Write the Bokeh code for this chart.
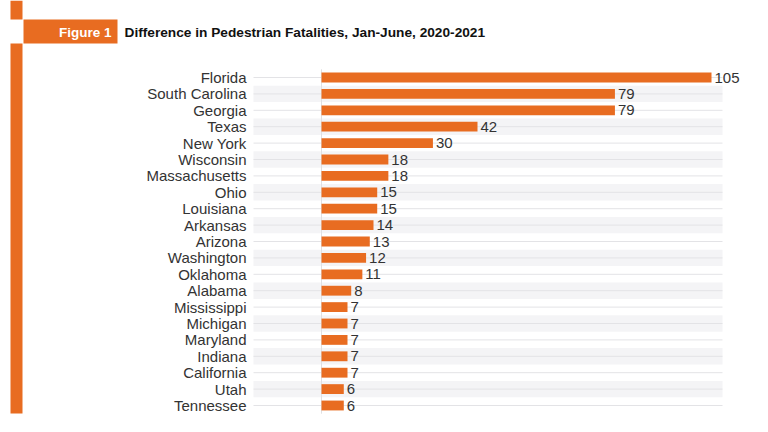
from bokeh.plotting import figure
from bokeh.models import Range1d
from bokeh.core.properties import value
from bokeh.embed import file_html
from bokeh.resources import INLINE

# ---- data ----
states = ["Florida", "South Carolina", "Georgia", "Texas", "New York", "Wisconsin",
          "Massachusetts", "Ohio", "Louisiana", "Arkansas", "Arizona", "Washington",
          "Oklahoma", "Alabama", "Mississippi", "Michigan", "Maryland", "Indiana",
          "California", "Utah", "Tennessee"]
values = [105, 79, 79, 42, 30, 18, 18, 15, 15, 14, 13, 12, 11, 8, 7, 7, 7, 7, 7, 6, 6]
title_text = "Difference in Pedestrian Fatalities, Jan-June, 2020-2021"
figure_tag = "Figure 1"

# ---- layout helpers (pixel -> data) ----
W, H = 768, 432
ZERO_PX = 321.0
PX_PER_UNIT = (711.0 - 321.0) / 105.0
ROW0_PX = 77.0
ROW_PX = (405.0 - 77.0) / 20.0


def X(px):
    return (px - ZERO_PX) / PX_PER_UNIT


def Y(py):
    return (py - ROW0_PX) / ROW_PX


ORANGE = "#E86C21"
FONT = "Liberation Sans"

p = figure(width=W, height=H, x_range=Range1d(X(0), X(W)), y_range=Range1d(Y(H), Y(0)),
           output_backend="svg", toolbar_location=None, min_border=0,
           x_axis_type=None, y_axis_type=None, outline_line_color=None)
p.grid.visible = False
p.background_fill_color = "white"
p.border_fill_color = "white"

idx = list(range(len(states)))
odd = [i for i in idx if i % 2 == 1]

# row bands & lines
p.hbar(y=odd, left=X(253), right=X(722), height=1.0, fill_color="#F4F4F6", line_color=None)
p.segment(x0=[X(253)] * len(idx), y0=idx, x1=[X(722)] * len(idx), y1=idx,
          line_color="#E3E3E6", line_width=1)
# zero line
p.segment(x0=[0], y0=[-0.5], x1=[0], y1=[len(idx) - 0.5], line_color="#E0E0E2", line_width=1)

# bars
p.hbar(y=idx, left=0, right=values, height=0.6, fill_color=ORANGE, line_color=None)

# value labels
p.text(x=values, y=idx, text=[str(v) for v in values], x_offset=3,
       text_baseline="middle", text_align="left", text_font=value(FONT),
       text_font_size="15px", text_color="#333333")

# category labels
p.text(x=[X(246)] * len(idx), y=idx, text=states, text_baseline="middle", text_align="right",
       text_font=value(FONT), text_font_size="15px", text_color="#333333")

# decorations
p.quad(left=[X(10), X(10)], right=[X(22), X(22)], top=[Y(0), Y(43)], bottom=[Y(19), Y(413)],
       fill_color=ORANGE, line_color=None)
p.quad(left=[X(23)], right=[X(117)], top=[Y(19)], bottom=[Y(43)], fill_color=ORANGE, line_color=None)
p.text(x=[X(111)], y=[Y(31.5)], text=[figure_tag], text_align="right", text_baseline="middle",
       text_font=value(FONT), text_font_style="bold", text_font_size="13.5px", text_color="white")
p.text(x=[X(124)], y=[Y(31.5)], text=[title_text], text_align="left", text_baseline="middle",
       text_font=value(FONT), text_font_style="bold", text_font_size="13.7px", text_color="#111111")

open("out.html", "w").write(file_html(p, INLINE))
